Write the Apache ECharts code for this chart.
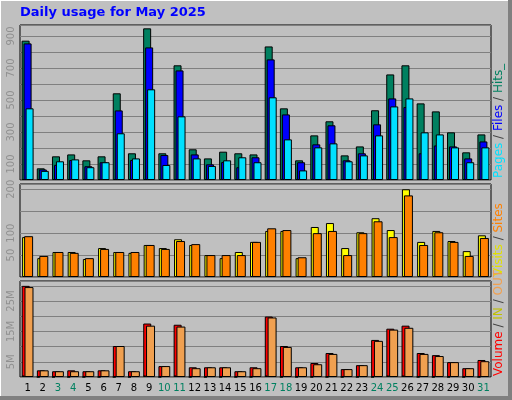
<!DOCTYPE html>
<html><head><meta charset="utf-8">
<script src="https://cdn.jsdelivr.net/npm/echarts@6/dist/echarts.min.js"></script>
<style>html,body{margin:0;padding:0;background:#c0c0c0}#c{width:512px;height:400px}</style>
</head><body><div id="c"></div>
<script>
const days = ['1','2','3','4','5','6','7','8','9','10','11','12','13','14','15','16','17','18','19','20','21','22','23','24','25','26','27','28','29','30','31'];
const weekend = ['3','4','10','11','17','18','24','25','31'];
const hits  = [871,73,148,160,123,148,542,167,948,167,717,192,135,177,167,160,835,448,123,279,367,154,210,436,660,717,479,429,298,173,285];
const files = [854,66,95,125,86,111,435,125,829,156,685,160,98,112,80,142,754,410,111,223,342,123,167,348,510,456,167,216,210,135,241];
const pages = [448,57,117,129,80,111,292,135,567,94,398,135,88,123,142,111,517,254,60,204,229,117,154,279,460,510,298,285,204,111,204];
const visits= [91,43,57,57,41,66,57,55,73,66,86,73,50,43,57,80,105,105,43,114,123,66,102,134,107,200,80,105,82,59,95];
const sites = [93,48,57,55,43,64,57,57,73,64,82,75,50,50,50,80,111,107,45,100,105,50,100,127,91,186,73,102,80,48,89];
const volume= [30.0,2.2,1.9,2.2,1.9,2.2,10.2,1.9,17.6,3.6,17.2,3.2,3.2,3.2,1.9,3.2,19.9,10.2,3.2,4.6,7.9,2.6,3.9,12.2,15.9,16.9,7.9,7.2,4.9,2.9,5.6];
const volOut= [29.6,2.2,1.9,1.9,1.9,2.2,10.2,1.9,16.9,3.6,16.6,2.9,3.2,3.2,1.9,2.9,19.6,9.9,3.2,4.2,7.6,2.6,3.9,11.9,15.6,16.2,7.6,6.9,4.9,2.9,5.2];
const volIn = [0.5,0,0,0,0,0,0,0,0.5,0,0.5,0,0,0,0,0,0.5,0,0,0,0,0,0,0,0.5,0.5,0,0,0,0,0];

const L=20, W=471;
const grids=[{left:L,width:W,top:25,height:155},{left:L,width:W,top:184,height:93},{left:L,width:W,top:281,height:96}]
  .map(g=>Object.assign(g,{show:true,borderColor:'#000',borderWidth:1,backgroundColor:'#c0c0c0'}));
const xAx=i=>({type:'category',gridIndex:i,data:days,axisTick:{show:false},axisLine:{show:false},
  axisLabel:{show:i===2,interval:0,fontSize:10,fontFamily:'DejaVu Sans',margin:6,
    color:(v)=>weekend.includes(v)?'#008060':'#000'}});
const yAx=(i,max,iv,fmt)=>({type:'value',gridIndex:i,min:0,max:max,interval:iv,
  axisLine:{show:false},axisTick:{show:false},
  splitLine:{lineStyle:{color:'#808080',width:1}},
  axisLabel:{rotate:90,fontSize:10,fontFamily:'DejaVu Sans',color:'#909090',margin:4,formatter:fmt}});
const bar=(name,data,color,i,bw,gap,z,xi)=>({name,type:'bar',data,xAxisIndex:xi==null?i:xi,yAxisIndex:i,barWidth:bw,barGap:gap,z:z||2,
  itemStyle:{color,borderColor:'#000',borderWidth:1},animation:false});
const hiddenX={type:'category',gridIndex:2,data:days,show:false};
const chart=echarts.init(document.getElementById('c'));
chart.setOption({
  backgroundColor:'#c0c0c0',animation:false,
  grid:grids,
  xAxis:[xAx(0),xAx(1),xAx(2),hiddenX],
  yAxis:[yAx(0,969,100,v=>v%200===100?v:''),yAx(1,212,50,v=>(v===150||v===0)?'':v),yAx(2,31.6,5,v=>(v%10===5)?v+'M':'')],
  series:[
    bar('Hits',hits,'#008060',0,8,'-75%'),
    bar('Files',files,'#0000ff',0,8,'-75%'),
    bar('Pages',pages,'#00e0ff',0,8,'-75%'),
    bar('Visits',visits,'#ffff00',1,8,'-75%'),
    bar('Sites',sites,'#ff8000',1,9,'-75%'),
    bar('Volume',volume,'#ff0000',2,8,'-65%'),
    bar('OUT',volOut,'#f0a050',2,9,'-65%'),
    {name:'IN',type:'bar',data:volIn,xAxisIndex:3,yAxisIndex:2,barWidth:3,barGap:'0%',z:5,
      itemStyle:{color:'#ffff00',borderColor:'#000',borderWidth:1}},
    {name:'spacer',type:'bar',data:volIn.map(()=>0),xAxisIndex:3,yAxisIndex:2,barWidth:9,barGap:'0%',
      itemStyle:{color:'transparent',borderWidth:0},silent:true}
  ],
  graphic:[
    {type:'rect',left:0,top:0,shape:{width:512,height:1},style:{fill:'#fff'}},
    {type:'rect',left:0,top:0,shape:{width:1,height:400},style:{fill:'#fff'}},
    {type:'rect',left:508,top:0,shape:{width:4,height:400},style:{fill:'#808080'}},
    {type:'rect',left:0,top:396,shape:{width:512,height:4},style:{fill:'#808080'}},
    {type:'text',left:20,top:6,style:{text:'Daily usage for May 2025',fill:'#0000ff',font:'bold 13px "DejaVu Sans"'}},
    {type:'text',x:493,y:178,rotation:Math.PI/2,style:{text:'{a|Pages}{s| / }{b|Files}{s| / }{c|Hits_}',
      rich:{a:{fill:'#00e0ff',font:'12px "DejaVu Sans"'},b:{fill:'#0000ff',font:'12px "DejaVu Sans"'},c:{fill:'#008060',font:'12px "DejaVu Sans"'},s:{fill:'#404040',font:'12px "DejaVu Sans"'}}}},
    {type:'text',x:493,y:276,rotation:Math.PI/2,style:{text:'{a|Visits}{s| / }{b|Sites}',
      rich:{a:{fill:'#e0e000',font:'12px "DejaVu Sans"'},b:{fill:'#ff8000',font:'12px "DejaVu Sans"'},s:{fill:'#404040',font:'12px "DejaVu Sans"'}}}},
    {type:'text',x:493,y:376,rotation:Math.PI/2,style:{text:'{a|Volume}{s| / }{b|IN}{s| / }{c|OUT}',
      rich:{a:{fill:'#ff0000',font:'12px "DejaVu Sans"'},b:{fill:'#c0c000',font:'12px "DejaVu Sans"'},c:{fill:'#f0a050',font:'12px "DejaVu Sans"'},s:{fill:'#404040',font:'12px "DejaVu Sans"'}}}}
  ]
});
</script></body></html>
